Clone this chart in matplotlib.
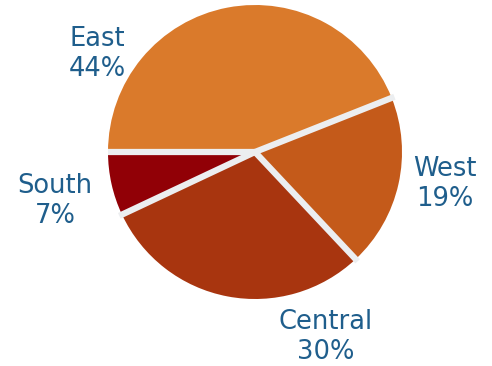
import matplotlib
matplotlib.use('Agg')
import matplotlib.pyplot as plt
import numpy as np

# regional share, clockwise from 9 o'clock
regions = ['East', 'West', 'Central', 'South']
shares = [44, 19, 30, 7]
colors = ['#DA7A2B', '#C45A1A', '#A8350F', '#910006']

# label anchor points in pie units (radius = 1)
label_pos = {
    'East': (-1.07, 0.67),
    'West': (1.29, -0.22),
    'Central': (0.48, -1.26),
    'South': (-1.36, -0.33),
}

W, H = 492, 366
fig = plt.figure(figsize=(W / 100, H / 100), dpi=100)
cx, cy, r = 255, 152, 147
ax = fig.add_axes([(cx - r) / W, (H - cy - r) / H, 2 * r / W, 2 * r / H])

wedges, _ = ax.pie(shares, colors=colors, startangle=180, counterclock=False,
                   wedgeprops=dict(linewidth=0))

# separators only along the radii, no outline around the rim
for w in wedges:
    t = np.deg2rad(w.theta1)
    ax.plot([0, 1.02 * np.cos(t)], [0, 1.02 * np.sin(t)],
            color='#ECEEF0', lw=4.5, solid_capstyle='butt', zorder=5)

ax.set_xlim(-1, 1)
ax.set_ylim(-1, 1)
ax.set_aspect('equal')
ax.axis('off')

for name, val in zip(regions, shares):
    x, y = label_pos[name]
    ax.text(x, y, f'{name}\n{val}%', ha='center', va='center',
            fontsize=18.5, color='#1F5E8C', family='DejaVu Sans',
            linespacing=1.2, clip_on=False)

fig.savefig('out.png', dpi=100)
